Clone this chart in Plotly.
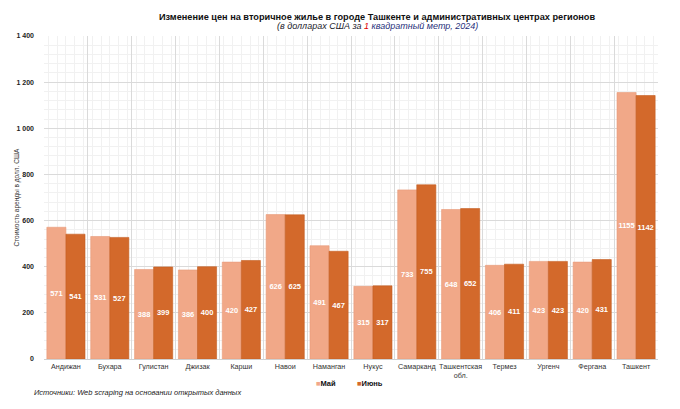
import plotly.graph_objects as go

categories = ["Андижан", "Бухара", "Гулистан", "Джизак", "Карши", "Навои", "Наманган",
              "Нукус", "Самарканд", "Ташкентская<br>обл.", "Термез", "Ургенч", "Фергана", "Ташкент"]
may = [571, 531, 388, 386, 420, 626, 491, 315, 733, 648, 406, 423, 420, 1155]
june = [541, 527, 399, 400, 427, 625, 467, 317, 755, 652, 411, 423, 431, 1142]
series_names = ["Май", "Июнь"]

pos = list(range(len(categories)))
FONT = "Liberation Sans, Arial, sans-serif"
C_MAY = "#F1A888"
C_JUNE = "#D3692B"

L, R, T, B = 44, 22, 36, 50
PW, PH = 680 - L - R, 409 - T - B


def px(x):
    return (x - L) / PW


def py(y):
    return (409 - B - y) / PH


fig = go.Figure()
for name, vals, col, edge in [(series_names[0], may, C_MAY, "#E89A78"),
                              (series_names[1], june, C_JUNE, "#C45E22")]:
    fig.add_trace(go.Bar(
        x=pos, y=vals, name=name, marker=dict(color=col, line=dict(width=0.6, color=edge)),
        text=[str(v) for v in vals], textposition="inside", insidetextanchor="middle",
        textangle=0, constraintext="none",
        textfont=dict(color="white", size=7.5, family=FONT, weight="bold"),
        xaxis="x", yaxis="y", showlegend=False,
    ))
# dummy trace for label axis
fig.add_trace(go.Scatter(x=[None], y=[None], xaxis="x2", yaxis="y", showlegend=False))

annots = []
for name, col, xp in [(series_names[0], C_MAY, 314), (series_names[1], C_JUNE, 355)]:
    annots.append(dict(
        text=f"<span style='color:{col}'>■</span><b>{name}</b>",
        xref="paper", yref="paper", x=px(xp), y=py(383),
        xanchor="left", yanchor="middle", showarrow=False,
        font=dict(size=7.5, color="#111", family=FONT),
    ))
annots.append(dict(
    text="<i>Источники: Web scraping на основании открытых данных</i>",
    xref="paper", yref="paper", x=px(32), y=py(393),
    xanchor="left", yanchor="middle",
    showarrow=False, font=dict(size=7.5, color="#222", family=FONT),
))
annots.append(dict(
    text="<i><span style='color:#1A1A2A'>(в долларах США за </span>"
         "<span style='color:#E00000'>1</span>"
         "<span style='color:#1F2F7A'> квадратный метр, 2024)</span></i>",
    xref="paper", yref="paper", x=px(377), y=py(26),
    xanchor="center", yanchor="middle", showarrow=False,
    font=dict(size=9, family=FONT),
))
annots.append(dict(
    text="Стоимость аренды в долл. США", textangle=-90,
    xref="paper", yref="paper", x=px(16), y=0.5,
    xanchor="center", yanchor="middle", showarrow=False,
    font=dict(size=6.5, color="#333", family=FONT),
))

fig.update_layout(
    width=680, height=409,
    margin=dict(l=L, r=R, t=T, b=B),
    paper_bgcolor="white", plot_bgcolor="white",
    font=dict(family=FONT, color="#222"),
    separators=", ",
    barmode="group", bargap=0.13, bargroupgap=0,
    showlegend=False,
    title=dict(
        text="<b>Изменение цен на вторичное жилье в городе Ташкенте и административных центрах регионов</b>",
        x=377 / 680, xanchor="center", xref="container", y=1 - 17 / 409, yanchor="middle",
        font=dict(size=9.2, color="#111", family=FONT),
    ),
    xaxis=dict(
        range=[-0.5, len(categories) - 0.5], showticklabels=False, ticks="",
        tick0=-0.5, dtick=1, showgrid=True, gridcolor="#DADADA", gridwidth=1,
        minor=dict(dtick=0.2, showgrid=True, gridcolor="#F1F1F1", gridwidth=1),
        zeroline=False, showline=False, automargin=False,
    ),
    xaxis2=dict(
        overlaying="x", anchor="y", side="bottom", matches="x",
        range=[-0.5, len(categories) - 0.5],
        tickmode="array", tickvals=pos, ticktext=categories, showgrid=False,
        tickangle=0, automargin=False,
        tickfont=dict(size=7.2, color="#333", family=FONT), ticks="", ticklen=0,
        zeroline=False, showline=True, linecolor="#D0D0D0",
    ),
    yaxis=dict(
        range=[0, 1400], dtick=200, tickformat=",d", automargin=False,
        showgrid=True, gridcolor="#DADADA", gridwidth=1,
        minor=dict(dtick=40, showgrid=True, gridcolor="#F1F1F1", gridwidth=1),
        tickfont=dict(size=7, color="#222", family=FONT, weight="bold"),
        zeroline=False, showline=False, ticks="", ticklabelstandoff=9,
    ),
    annotations=annots,
)

fig.write_html("out.html", config={"displayModeBar": False},
               post_script="document.body.style.margin='0';document.body.style.padding='0';")
